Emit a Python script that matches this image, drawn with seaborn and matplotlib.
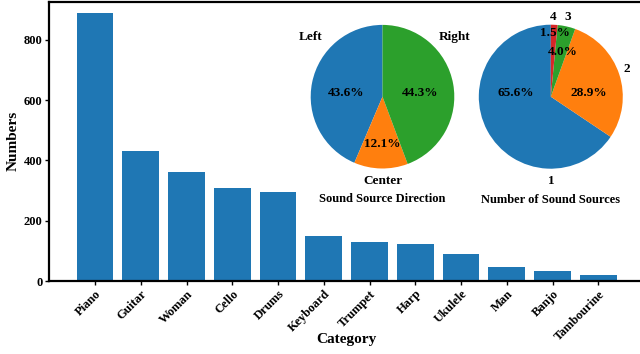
import matplotlib
matplotlib.use("Agg")
import matplotlib.pyplot as plt
import seaborn as sns
import pandas as pd

categories = ["Piano", "Guitar", "Woman", "Cello", "Drums", "Keyboard",
              "Trumpet", "Harp", "Ukulele", "Man", "Banjo", "Tambourine"]
counts = [889, 431, 362, 309, 294, 151, 130, 123, 90, 47, 33, 21]

direction_labels = ["Left", "Center", "Right"]
direction_pcts = [43.6, 12.1, 44.3]

source_labels = ["1", "2", "3", "4"]
source_pcts = [65.6, 28.9, 4.0, 1.5]

sns.set_theme(style="ticks")
plt.rcParams["font.family"] = ["Liberation Serif", "DejaVu Serif"]
plt.rcParams["font.weight"] = "bold"
plt.rcParams["axes.labelweight"] = "bold"
plt.rcParams["text.color"] = "black"
plt.rcParams["axes.labelcolor"] = "black"
plt.rcParams["xtick.color"] = "black"
plt.rcParams["ytick.color"] = "black"

W, H = 640, 354
fig = plt.figure(figsize=(6.4, 3.54), dpi=100)

left_px, right_px = 49.3, 644.0
top_px, bot_px = 1.7, 281.0
ax = fig.add_axes([left_px / W, 1 - bot_px / H, (right_px - left_px) / W, (bot_px - top_px) / H])

df = pd.DataFrame({"Category": categories, "Numbers": counts})
sns.barplot(data=df, x="Category", y="Numbers", color="#1f77b4", saturation=1,
            width=0.8, linewidth=0, ax=ax)
ax.set_xlim(-1, 12)
ax.set_ylim(0, 927)
ax.set_yticks([0, 200, 400, 600, 800])
for s in ax.spines.values():
    s.set_color("black")
    s.set_linewidth(1.6)
ax.tick_params(axis="both", length=3, width=1, color="black", labelcolor="black",
               labelsize=9, pad=2)
plt.setp(ax.get_xticklabels(), rotation=45, ha="right", rotation_mode="anchor", fontweight="bold")
plt.setp(ax.get_yticklabels(), fontweight="bold")
ax.set_xlabel("Category", fontsize=11, fontweight="bold", va="center")
ax.xaxis.set_label_coords(0.5, -(340.0 - bot_px) / (bot_px - top_px))
ax.set_ylabel("Numbers", fontsize=11, fontweight="bold", va="center")
ax.yaxis.set_label_coords(-(left_px - 13.5) / (right_px - left_px), 0.5)

tab = ["#1f77b4", "#ff7f0e", "#2ca02c", "#d62728"]


def add_pie(cx, cy, r, vals, labels, colors, label_pos, pct_pos, title):
    pax = fig.add_axes([(cx - r) / W, 1 - (cy + r) / H, 2 * r / W, 2 * r / H])
    pax.pie(vals, colors=colors, startangle=90, counterclock=True, radius=1,
            wedgeprops={"linewidth": 0, "edgecolor": "none"})
    pax.set_xlim(-1, 1)
    pax.set_ylim(-1, 1)
    pax.set_aspect("equal")
    pax.axis("off")
    for lab, (x, y) in zip(labels, label_pos):
        pax.text(x, y, lab, ha="center", va="center", fontsize=9.5, fontweight="bold")
    for v, (x, y) in zip(vals, pct_pos):
        pax.text(x, y, f"{v:.1f}%", ha="center", va="center", fontsize=9.5, fontweight="bold")
    pax.text(0, -1.43, title, ha="center", va="center", fontsize=9, fontweight="bold")
    return pax


add_pie(382.5, 96.7, 71.8, direction_pcts, direction_labels, tab[:3],
        [(-1.0, 0.83), (0.0, -1.17), (1.0, 0.83)],
        [(-0.5, 0.056), (0.0, -0.66), (0.53, 0.056)],
        "Sound Source Direction")

add_pie(550.8, 96.7, 72.0, source_pcts, source_labels, tab,
        [(0.01, -1.17), (1.06, 0.39), (0.23, 1.11), (0.035, 1.11)],
        [(-0.48, 0.056), (0.53, 0.056), (0.165, 0.625), (0.06, 0.88)],
        "Number of Sound Sources")

fig.savefig("out.png", dpi=100)
